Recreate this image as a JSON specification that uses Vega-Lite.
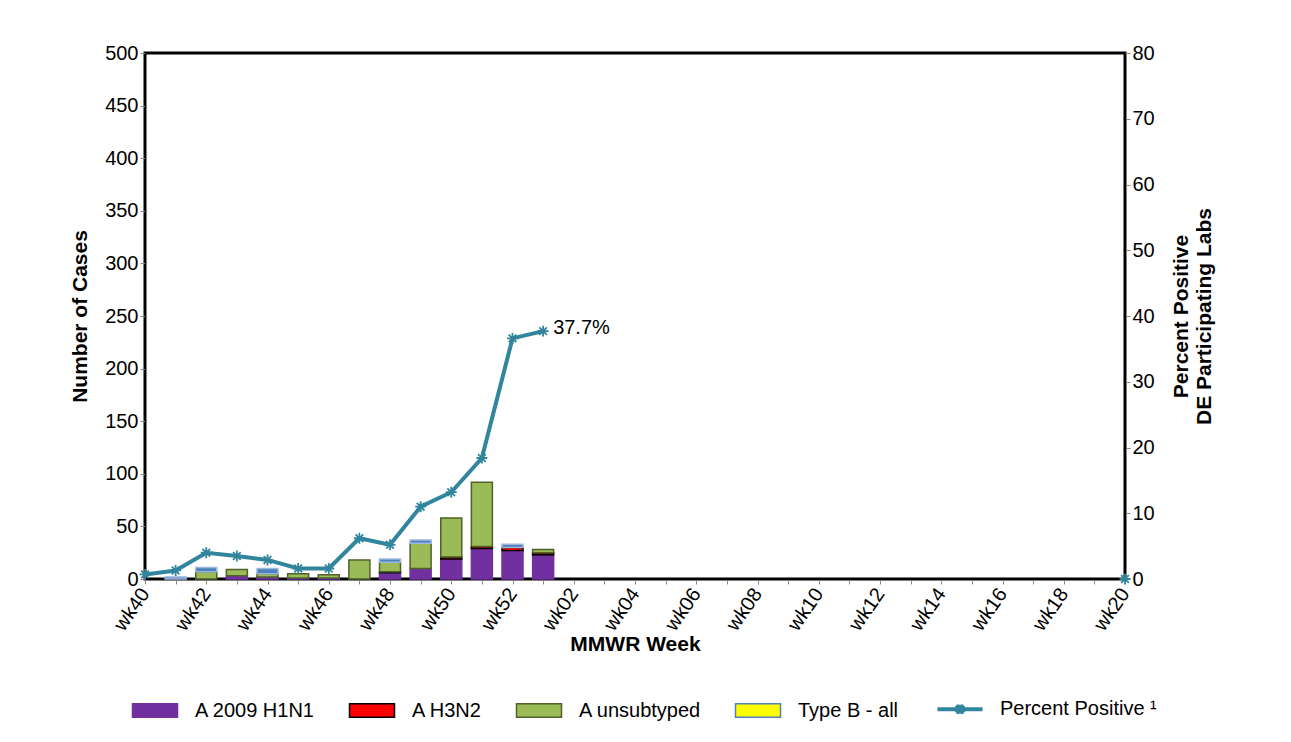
{
  "$schema": "https://vega.github.io/schema/vega-lite/v6.json",
  "width": 980,
  "height": 526,
  "autosize": "none",
  "padding": {"left": 145, "top": 53, "right": 166, "bottom": 163},
  "background": "white",
  "config": {
    "font": "Liberation Sans",
    "view": {"stroke": "black", "strokeWidth": 3},
    "axis": {"labelFontSize": 20, "titleFontSize": 21, "titleFontWeight": "bold", "labelColor": "black", "titleColor": "black", "grid": false, "domainColor": "black", "tickColor": "#888"}
  },
  "datasets": {
    "pct": [
      {"week": "wk40", "pct": 0.7, "seg": 1}, {"week": "wk41", "pct": 1.3, "seg": 1}, {"week": "wk42", "pct": 4.0, "seg": 1},
      {"week": "wk43", "pct": 3.5, "seg": 1}, {"week": "wk44", "pct": 2.9, "seg": 1}, {"week": "wk45", "pct": 1.6, "seg": 1},
      {"week": "wk46", "pct": 1.6, "seg": 1}, {"week": "wk47", "pct": 6.2, "seg": 1}, {"week": "wk48", "pct": 5.2, "seg": 1},
      {"week": "wk49", "pct": 11.0, "seg": 1}, {"week": "wk50", "pct": 13.2, "seg": 1}, {"week": "wk51", "pct": 18.4, "seg": 1},
      {"week": "wk52", "pct": 36.6, "seg": 1}, {"week": "wk01", "pct": 37.7, "seg": 1, "label": "37.7%"},
      {"week": "wk20", "pct": 0, "seg": 2}
    ],
    "legend": [
      {"type": "A 2009 H1N1"}, {"type": "A H3N2"}, {"type": "A unsubtyped"}, {"type": "Type B - all"}, {"type": "Percent Positive"}
    ]
  },
  "data": {
    "values": [
      {"week": "wk41", "type": "Type B - all", "n": 2},
      {"week": "wk42", "type": "A unsubtyped", "n": 7}, {"week": "wk42", "type": "Type B - all", "n": 4},
      {"week": "wk43", "type": "A 2009 H1N1", "n": 3}, {"week": "wk43", "type": "A unsubtyped", "n": 6},
      {"week": "wk44", "type": "A 2009 H1N1", "n": 2}, {"week": "wk44", "type": "A unsubtyped", "n": 3}, {"week": "wk44", "type": "Type B - all", "n": 5},
      {"week": "wk45", "type": "A 2009 H1N1", "n": 1}, {"week": "wk45", "type": "A unsubtyped", "n": 4},
      {"week": "wk46", "type": "A 2009 H1N1", "n": 1}, {"week": "wk46", "type": "A unsubtyped", "n": 3},
      {"week": "wk47", "type": "A unsubtyped", "n": 18},
      {"week": "wk48", "type": "A 2009 H1N1", "n": 6}, {"week": "wk48", "type": "A H3N2", "n": 1}, {"week": "wk48", "type": "A unsubtyped", "n": 9}, {"week": "wk48", "type": "Type B - all", "n": 3},
      {"week": "wk49", "type": "A 2009 H1N1", "n": 10}, {"week": "wk49", "type": "A unsubtyped", "n": 24}, {"week": "wk49", "type": "Type B - all", "n": 3},
      {"week": "wk50", "type": "A 2009 H1N1", "n": 19}, {"week": "wk50", "type": "A H3N2", "n": 2}, {"week": "wk50", "type": "A unsubtyped", "n": 37},
      {"week": "wk51", "type": "A 2009 H1N1", "n": 29}, {"week": "wk51", "type": "A H3N2", "n": 2}, {"week": "wk51", "type": "A unsubtyped", "n": 61},
      {"week": "wk52", "type": "A 2009 H1N1", "n": 27}, {"week": "wk52", "type": "A H3N2", "n": 3}, {"week": "wk52", "type": "Type B - all", "n": 3},
      {"week": "wk01", "type": "A 2009 H1N1", "n": 23}, {"week": "wk01", "type": "A H3N2", "n": 2}, {"week": "wk01", "type": "A unsubtyped", "n": 3}
    ]
  },
  "encoding": {
    "x": {
      "field": "week", "type": "ordinal",
      "scale": {"type": "point", "padding": 0, "domain": ["wk40","wk41","wk42","wk43","wk44","wk45","wk46","wk47","wk48","wk49","wk50","wk51","wk52","wk01","wk02","wk03","wk04","wk05","wk06","wk07","wk08","wk09","wk10","wk11","wk12","wk13","wk14","wk15","wk16","wk17","wk18","wk19","wk20"]},
      "axis": {"title": "MMWR Week", "labelAngle": -55, "labelExpr": "indexof(['wk40','wk42','wk44','wk46','wk48','wk50','wk52','wk02','wk04','wk06','wk08','wk10','wk12','wk14','wk16','wk18','wk20'], datum.value) >= 0 ? datum.value : ''", "titlePadding": 0, "labelPadding": 6}
    }
  },
  "layer": [
    {
      "mark": {"type": "bar", "size": 21, "strokeWidth": 1.5},
      "encoding": {
        "y": {"field": "n", "type": "quantitative", "stack": "zero", "scale": {"domain": [0, 500]}, "axis": {"title": "Number of Cases", "values": [0,50,100,150,200,250,300,350,400,450,500], "titlePadding": 14}},
        "fill": {"field": "type", "type": "nominal", "legend": null, "scale": {"domain": ["A 2009 H1N1", "A H3N2", "A unsubtyped", "Type B - all"], "range": ["#7030a0", "#ff0000", "#9bbb59", "#4f81bd"]}},
        "stroke": {"field": "type", "type": "nominal", "legend": null, "scale": {"domain": ["A 2009 H1N1", "A H3N2", "A unsubtyped", "Type B - all"], "range": ["#7030a0", "black", "#4f6228", "#9db8e0"]}},
        "order": {"field": "type", "sort": "ascending"}
      }
    },
    {
      "data": {"name": "pct"},
      "transform": [{"filter": "datum.seg == 1"}],
      "mark": {"type": "line", "strokeWidth": 4, "color": "#31859c"},
      "encoding": {
        "y": {"field": "pct", "type": "quantitative", "scale": {"domain": [0, 80]}, "axis": {"orient": "right", "title": ["Percent Positive", "DE Participating Labs"], "values": [0,10,20,30,40,50,60,70,80], "titleAngle": -90, "titlePadding": 14}}
      }
    },
    {
      "data": {"name": "pct"},
      "mark": {"type": "point", "shape": "M-1,0L1,0M0,-1L0,1M-0.7,-0.7L0.7,0.7M-0.7,0.7L0.7,-0.7", "filled": false, "size": 120, "strokeWidth": 1.8, "color": "#31859c", "opacity": 1},
      "encoding": {"y": {"field": "pct", "type": "quantitative", "scale": {"domain": [0, 80]}, "axis": null}}
    },
    {
      "data": {"name": "pct"},
      "transform": [{"filter": "datum.label != null"}],
      "mark": {"type": "text", "align": "left", "dx": 10, "dy": -3, "fontSize": 20, "color": "black"},
      "encoding": {"y": {"field": "pct", "type": "quantitative", "scale": {"domain": [0, 80]}, "axis": null}, "text": {"field": "label"}}
    },
    {
      "data": {"name": "legend"},
      "mark": {"type": "point", "filled": true, "size": 0},
      "encoding": {
        "x": {"value": 0},
        "y": {"value": 0},
        "color": {
          "field": "type", "type": "nominal",
          "scale": {"domain": ["A 2009 H1N1", "A H3N2", "A unsubtyped", "Type B - all", "Percent Positive"], "range": ["#7030a0", "#ff0000", "#9bbb59", "#ffff00", "#31859c"]},
          "legend": {
            "orient": "bottom", "direction": "horizontal", "title": null, "offset": 44,
            "labelFontSize": 20, "labelColor": "black", "symbolSize": 900, "columnPadding": 30, "labelOffset": 30, "labelLimit": 400, "symbolOpacity": 1,
            "labelExpr": "datum.value == 'Percent Positive' ? 'Percent Positive  ¹' : datum.label",
            "encode": {"symbols": {"update": {"size": {"value": 900}, "opacity": {"value": 1}, "shape": {"signal": "datum.value == 'Percent Positive' ? 'M-1.5,0L1.5,0M0,-0.3L0,0.3M-0.25,-0.25L0.25,0.25M-0.25,0.25L0.25,-0.25' : 'M-1.5,-0.45L1.5,-0.45L1.5,0.45L-1.5,0.45Z'"}, "strokeWidth": {"signal": "datum.value == 'Percent Positive' ? 4 : 1.5"}, "stroke": {"signal": "datum.value == 'Percent Positive' ? '#31859c' : (datum.value == 'Type B - all' ? '#4f81bd' : (datum.value == 'A unsubtyped' ? '#4f6228' : (datum.value == 'A H3N2' ? 'black' : '#7030a0')))"}}}}
          }
        }
      }
    }
  ],
  "resolve": {"scale": {"y": "independent"}}
}
